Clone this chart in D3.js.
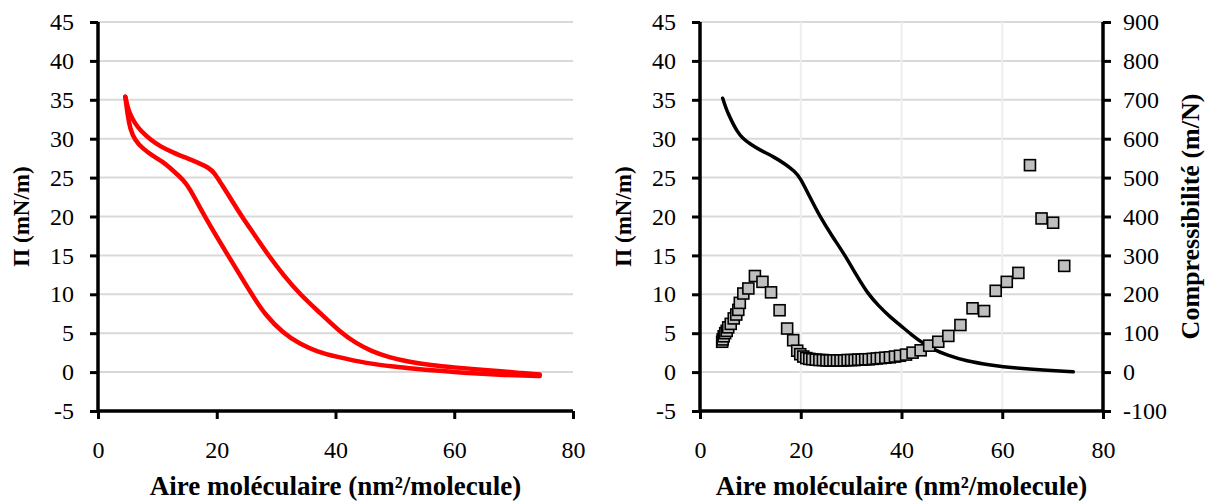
<!DOCTYPE html>
<html>
<head>
<meta charset="utf-8">
<script src="https://cdn.jsdelivr.net/npm/d3@7"></script>
<style>
  html, body { margin: 0; padding: 0; background: #ffffff; }
  svg { display: block; }
  text { font-family: "Liberation Serif", "Times New Roman", serif; fill: #000; }
</style>
</head>
<body>
<script>
// ---------- DATA ----------
const xTicks = [0, 20, 40, 60, 80];
const yTicks = [-5, 0, 5, 10, 15, 20, 25, 30, 35, 40, 45];
const y2Ticks = [-100, 0, 100, 200, 300, 400, 500, 600, 700, 800, 900];

// Left chart: isotherm, compression branch (upper) and expansion branch (lower)
const compX = [4.6, 5.0, 5.5, 6.2, 7.2, 8.8, 10.5, 12.7, 15.0, 17.2, 18.6, 19.6, 20.5, 22.2, 24.2, 26.5, 28.7, 31.3, 34.0, 37.4, 41.0, 43.5, 46.0, 49.0, 52.5, 56.0, 60.0, 64.0, 68.0, 71.0, 74.4];
const compY = [35.4, 34.0, 33.0, 32.0, 31.0, 29.9, 29.0, 28.2, 27.5, 26.8, 26.3, 25.6, 24.5, 22.5, 20.0, 17.5, 15.0, 12.4, 10.0, 7.6, 5.0, 3.7, 2.7, 1.9, 1.3, 0.9, 0.6, 0.35, 0.1, -0.1, -0.3];
const expX = [4.6, 5.0, 5.4, 6.2, 7.6, 9.0, 11.0, 12.5, 14.4, 15.5, 16.7, 18.0, 19.9, 21.9, 23.9, 25.9, 28.2, 31.2, 34.0, 37.0, 40.0, 45.3, 50.0, 54.0, 59.3, 63.0, 67.7, 72.0, 74.4];
const expY = [35.4, 33.0, 31.3, 29.8, 28.7, 27.9, 27.0, 26.0, 24.7, 23.5, 21.8, 20.0, 17.5, 15.0, 12.5, 10.0, 7.3, 5.0, 3.6, 2.6, 2.0, 1.1, 0.7, 0.35, 0.05, -0.15, -0.35, -0.45, -0.5];

// Right chart: isotherm (black line)
const isoX = [4.5, 5.0, 5.6, 6.5, 7.3, 8.5, 10.0, 12.0, 14.6, 17.0, 18.8, 19.9, 21.8, 23.8, 26.3, 28.8, 31.1, 33.4, 35.5, 37.7, 40.0, 42.0, 44.3, 46.3, 49.0, 52.9, 57.6, 62.9, 68.0, 74.1];
const isoY = [35.2, 34.2, 33.2, 32.0, 31.0, 30.0, 29.3, 28.5, 27.7, 26.7, 25.8, 25.0, 22.5, 20.0, 17.4, 15.0, 12.4, 10.0, 8.5, 7.1, 5.9, 4.8, 3.7, 2.9, 2.2, 1.4, 0.9, 0.5, 0.25, 0.04];

// Right chart: compressibility (squares, right axis)
const compresX = [4.4, 4.5, 4.7, 5.0, 5.3, 5.6, 6.1, 6.7, 7.2, 7.6, 7.9, 8.6, 9.6, 10.9, 12.4, 14.1, 15.8, 17.3, 18.5, 19.3, 19.9, 20.5, 21.1, 21.7, 22.3, 23.0, 23.7, 24.4, 25.1, 25.8, 26.5, 27.2, 27.9, 28.6, 29.3, 30.0, 30.7, 31.4, 32.1, 32.8, 33.5, 34.3, 35.1, 35.9, 36.8, 37.7, 38.7, 39.7, 40.9, 42.2, 43.8, 45.5, 47.3, 49.3, 51.7, 54.1, 56.4, 58.7, 60.9, 63.2, 65.5, 67.8, 70.1, 72.3];
const compresV = [78, 84, 92, 100, 106, 115, 124, 138, 148, 160, 178, 202, 215, 247, 232, 205, 159, 112, 82, 55, 46, 40, 36, 34, 33, 32, 31, 31, 30, 30, 30, 30, 30, 30, 31, 31, 31, 32, 32, 33, 33, 34, 35, 36, 37, 38, 40, 42, 45, 50, 56, 68, 78, 93, 121, 164, 157, 209, 232, 255, 532, 395, 384, 273];

const xTitle = "Aire moléculaire (nm²/molecule)";
const yTitle = "Π (mN/m)";
const y2Title = "Compressibilité (m/N)";

// ---------- DRAW ----------
const W = 1210, H = 503;
const svg = d3.select("body").append("svg").attr("width", W).attr("height", H);

const plotTop = 22, plotBottom = 411;
const tickFont = 24, xTitleFont = 27, yTitleFont = 23, y2TitleFont = 26;
const fmt = d => String(d);

function zip(xs, ys) { return xs.map((x, i) => [x, ys[i]]); }

function drawPanel(left, right, opts) {
  const x = d3.scaleLinear().domain([0, 80]).range([left, right]);
  const y = d3.scaleLinear().domain([-5, 45]).range([plotBottom, plotTop]);
  const g = svg.append("g");

  // grid
  g.selectAll("line.hg").data(yTicks.filter(t => t > -5)).enter().append("line")
    .attr("x1", left).attr("x2", right)
    .attr("y1", d => y(d)).attr("y2", d => y(d))
    .attr("stroke", "#d9d9d9").attr("stroke-width", 2);
  if (opts.vgrid) {
    g.selectAll("line.vg").data(xTicks.filter(t => t > 0 && t < 80)).enter().append("line")
      .attr("x1", d => x(d)).attr("x2", d => x(d))
      .attr("y1", plotTop).attr("y2", plotBottom)
      .attr("stroke", "#eeeeee").attr("stroke-width", 2);
  }

  // data
  opts.draw(g, x, y);

  // axes
  const xa = g.append("g").attr("transform", `translate(0,${plotBottom})`)
    .call(d3.axisBottom(x).tickValues(xTicks).tickFormat(fmt).tickSize(8).tickPadding(22));
  const ya = g.append("g").attr("transform", `translate(${left},0)`)
    .call(d3.axisLeft(y).tickValues(yTicks).tickFormat(fmt).tickSize(8).tickPadding(16));
  [xa, ya].forEach(a => {
    a.select(".domain").attr("stroke", "#000").attr("stroke-width", 3.5);
    a.selectAll(".tick line").attr("stroke", "#000").attr("stroke-width", 3);
    a.selectAll(".tick text").attr("font-size", tickFont)
      .attr("font-family", "Liberation Serif").attr("fill", "#000");
  });
  xa.select(".domain").attr("d", `M${left},0H${right}`);
  ya.select(".domain").attr("d", `M0,${plotBottom}V${plotTop}`);
  xa.selectAll(".tick text").attr("dy", "0.35em").attr("y", 39);

  // titles
  svg.append("text").attr("x", (left + right) / 2).attr("y", 495)
    .attr("text-anchor", "middle").attr("font-size", xTitleFont).attr("font-weight", "bold")
    .text(xTitle);
  svg.append("text")
    .attr("transform", `translate(${left - 69},${(plotTop + plotBottom) / 2}) rotate(-90)`)
    .attr("text-anchor", "middle").attr("font-size", yTitleFont).attr("font-weight", "bold")
    .text(yTitle);
  return { x, y };
}

// Left panel
drawPanel(98, 573, {
  vgrid: false,
  draw: (g, x, y) => {
    const line = d3.line().x(d => x(d[0])).y(d => y(d[1])).curve(d3.curveBasis);
    [zip(compX, compY), zip(expX, expY)].forEach(data => {
      g.append("path").datum(data).attr("d", line)
        .attr("fill", "none").attr("stroke", "#ff0000").attr("stroke-width", 4.5)
        .attr("stroke-linecap", "round").attr("stroke-linejoin", "round");
    });
  }
});

// Right panel
const rLeft = 700, rRight = 1103;
drawPanel(rLeft, rRight, {
  vgrid: true,
  draw: (g, x, y) => {
    const y2 = d3.scaleLinear().domain([-100, 900]).range([plotBottom, plotTop]);
    const line = d3.line().x(d => x(d[0])).y(d => y(d[1])).curve(d3.curveBasis);
    g.append("path").datum(zip(isoX, isoY)).attr("d", line)
      .attr("fill", "none").attr("stroke", "#000").attr("stroke-width", 3.5)
      .attr("stroke-linecap", "round");
    const s = 11;
    g.selectAll("rect.pt").data(zip(compresX, compresV)).enter().append("rect")
      .attr("x", d => x(d[0]) - s / 2).attr("y", d => y2(d[1]) - s / 2)
      .attr("width", s).attr("height", s)
      .attr("fill", "#bfbfbf").attr("stroke", "#000").attr("stroke-width", 1.6);

    const ra = svg.append("g").attr("transform", `translate(${rRight},0)`)
      .call(d3.axisRight(y2).tickValues(y2Ticks).tickFormat(fmt).tickSize(8).tickPadding(12));
    ra.select(".domain").attr("stroke", "#000").attr("stroke-width", 3.5)
      .attr("d", `M0,${plotBottom}V${plotTop}`);
    ra.selectAll(".tick line").attr("stroke", "#000").attr("stroke-width", 3);
    ra.selectAll(".tick text").attr("font-size", tickFont)
      .attr("font-family", "Liberation Serif").attr("fill", "#000");
  }
});

svg.append("text")
  .attr("transform", `translate(1199,${(plotTop + plotBottom) / 2}) rotate(-90)`)
  .attr("text-anchor", "middle").attr("font-size", y2TitleFont).attr("font-weight", "bold")
  .text(y2Title);
</script>
</body>
</html>
